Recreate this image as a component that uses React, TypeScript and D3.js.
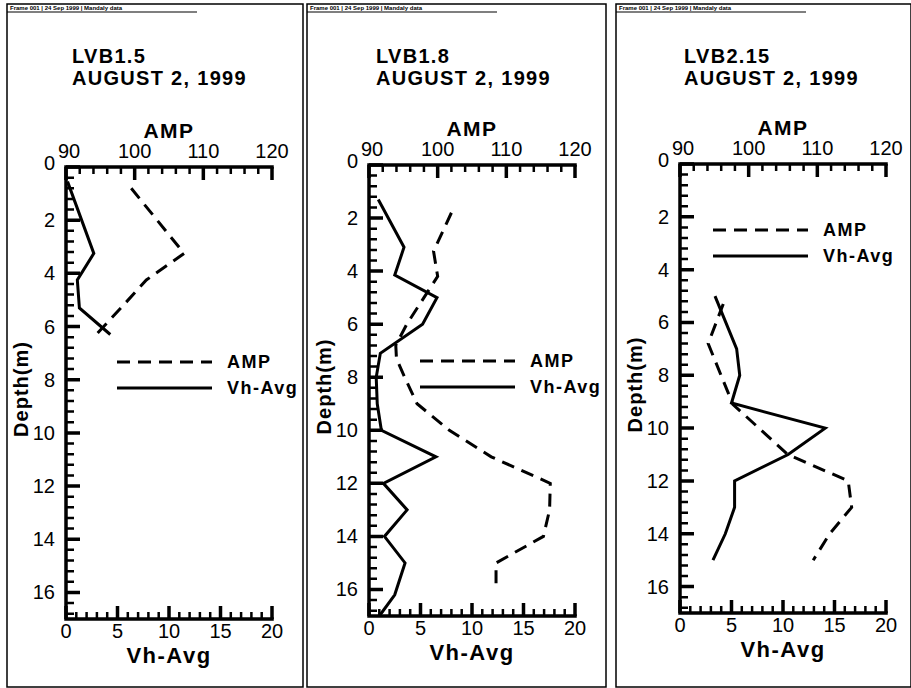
import React, { useRef, useEffect } from "react";
import * as d3 from "d3";

// wells and labels
const wellNames = ["LVB1.5", "LVB1.8", "LVB2.15"];
const surveyDate = "AUGUST 2, 1999";
const frameHeader = "Frame 001 | 24 Sep 1999 | Mandaly data";

// axis ticks
const ampTicks = [90, 100, 110, 120];
const vhTicks = [0, 5, 10, 15, 20];
const depthTicks = [0, 2, 4, 6, 8, 10, 12, 14, 16];

// LVB1.5
const vh15Depth = [0.55, 3.25, 4.25, 5.3, 6.3];
const vh15 = [0.15, 2.7, 1.1, 1.3, 4.3];
const amp15Depth = [0.8, 3.25, 4.25, 5.3, 6.3];
const amp15 = [99.5, 107.2, 101.7, 98.0, 94.4];

// LVB1.8
const vh18Depth = [1.3, 3.1, 4.15, 5, 6, 7.1, 8, 9, 10, 11, 12, 13, 14, 15, 16.2, 17];
const vh18 = [0.9, 3.4, 2.5, 6.6, 5.2, 1.1, 0.7, 0.8, 1.2, 6.5, 1.4, 3.7, 1.5, 3.5, 2.5, 1.0];
const amp18Depth = [1.8, 3.25, 4.2, 5, 6, 6.8, 7.3, 8, 9, 10, 11, 12, 13, 14, 15, 16];
const amp18 = [102.0, 99.4, 100.0, 98.0, 95.5, 93.9, 94.0, 95.2, 97.0, 101.7, 107.8, 116.4, 116.3, 115.4, 108.5, 108.5];

// LVB2.15
const vh215Depth = [5, 7, 8, 9.05, 10, 11, 12, 13, 14, 15];
const vh215 = [3.4, 5.5, 5.8, 5.0, 14.1, 10.5, 5.3, 5.3, 4.4, 3.2];
const amp215Depth = [5.3, 6.8, 9.1, 11, 12, 13, 14, 15];
const amp215 = [96.3, 94.1, 97.7, 105.7, 114.5, 115.0, 111.8, 109.4];

const vhSeries = [[vh15Depth, vh15], [vh18Depth, vh18], [vh215Depth, vh215]];
const ampSeries = [[amp15Depth, amp15], [amp18Depth, amp18], [amp215Depth, amp215]];

// layout
const frames = [{ x0: 7, x1: 303 }, { x0: 307, x1: 606 }, { x0: 616, x1: 911 }];
const boxes = [
  { left: 66, top: 167, right: 272, bottom: 619 },
  { left: 369, top: 165, right: 575, bottom: 616 },
  { left: 680, top: 164, right: 886, bottom: 613 },
];
const legends = [
  { x: 51, y: 195, tx: 161 },
  { x: 51, y: 196, tx: 161 },
  { x: 33, y: 66, tx: 143 },
];
const titleX = [6, 7, 4];

const FONT = "'Liberation Sans', Arial, Helvetica, sans-serif";

function App() {
  const ref = useRef<SVGSVGElement>(null);

  useEffect(() => {
    const svg = d3.select(ref.current);
    svg.selectAll("*").remove();

    wellNames.forEach((name, i) => {
      const f = frames[i];
      const b = boxes[i];
      const g = svg.append("g");

      // frame + header strip
      g.append("rect")
        .attr("x", f.x0).attr("y", 4)
        .attr("width", f.x1 - f.x0).attr("height", 683)
        .attr("fill", "none").attr("stroke", "#000").attr("stroke-width", 1.5);
      g.append("path")
        .attr("d", `M${f.x0},12H${f.x0 + 190}`)
        .attr("stroke", "#000").attr("stroke-width", 1.2);
      g.append("text")
        .attr("x", f.x0 + 3).attr("y", 10)
        .attr("font-size", 6).attr("font-weight", "bold")
        .attr("font-family", FONT)
        .text(frameHeader);

      // title
      const title = g.append("text")
        .attr("font-family", FONT).attr("font-weight", "bold")
        .attr("font-size", 20).attr("letter-spacing", 1.3);
      title.append("tspan").attr("x", b.left + titleX[i]).attr("y", 63).text(name);
      title.append("tspan").attr("x", b.left + titleX[i]).attr("y", 85).text(surveyDate);

      const y = d3.scaleLinear().domain([0, 17]).range([b.top, b.bottom]);
      const xAmp = d3.scaleLinear().domain([90, 120]).range([b.left, b.right]);
      const xVh = d3.scaleLinear().domain([0, 20]).range([b.left, b.right]);

      // tick labels
      const labels = g.append("g").attr("font-family", FONT).attr("font-size", 20).attr("fill", "#000");
      depthTicks.forEach((d) => {
        labels.append("text")
          .attr("x", b.left - 11).attr("y", y(d) - (d === 0 ? 4 : 0))
          .attr("dy", "0.35em").attr("text-anchor", "end")
          .text(d);
      });
      ampTicks.forEach((d) => {
        labels.append("text")
          .attr("x", xAmp(d) + (d === 90 ? 3 : 0)).attr("y", b.top - 9)
          .attr("text-anchor", "middle")
          .text(d);
      });
      vhTicks.forEach((d) => {
        labels.append("text")
          .attr("x", xVh(d)).attr("y", b.bottom + 19)
          .attr("text-anchor", "middle")
          .text(d);
      });

      // axis titles
      g.append("text")
        .attr("x", (b.left + b.right) / 2).attr("y", b.top - 29)
        .attr("text-anchor", "middle")
        .attr("font-family", FONT).attr("font-weight", "bold")
        .attr("font-size", 21).attr("letter-spacing", 1.5)
        .text("AMP");
      g.append("text")
        .attr("x", (b.left + b.right) / 2).attr("y", b.bottom + 44)
        .attr("text-anchor", "middle")
        .attr("font-family", FONT).attr("font-weight", "bold")
        .attr("font-size", 22).attr("letter-spacing", 1.5)
        .text("Vh-Avg");
      g.append("text")
        .attr("transform", `translate(${b.left - 38},${(b.top + b.bottom) / 2 - 4}) rotate(-90)`)
        .attr("text-anchor", "middle")
        .attr("font-family", FONT).attr("font-weight", "bold")
        .attr("font-size", 20).attr("letter-spacing", 1)
        .text("Depth(m)");

      // data lines
      const [vd, vv] = vhSeries[i];
      const [ad, av] = ampSeries[i];
      const vhLine = d3.line<[number, number]>().x((d) => xVh(d[1])).y((d) => y(d[0]));
      const ampLine = d3.line<[number, number]>().x((d) => xAmp(d[1])).y((d) => y(d[0]));

      g.append("path")
        .attr("d", ampLine(d3.zip(ad, av) as [number, number][]))
        .attr("fill", "none").attr("stroke", "#000")
        .attr("stroke-width", 3).attr("stroke-dasharray", "13,8");
      g.append("path")
        .attr("d", vhLine(d3.zip(vd, vv) as [number, number][]))
        .attr("fill", "none").attr("stroke", "#000")
        .attr("stroke-width", 3).attr("stroke-linejoin", "miter");

      // legend
      const lg = legends[i];
      const entries = [
        { label: "AMP", dash: "13,8" },
        { label: "Vh-Avg", dash: "none" },
      ];
      entries.forEach((e, k) => {
        const ly = b.top + lg.y + k * 26;
        g.append("path")
          .attr("d", `M${b.left + lg.x},${ly}H${b.left + lg.x + 95}`)
          .attr("stroke", "#000").attr("stroke-width", 3)
          .attr("stroke-dasharray", e.dash);
        g.append("text")
          .attr("x", b.left + lg.tx).attr("y", ly).attr("dy", "0.35em")
          .attr("font-family", FONT).attr("font-weight", "bold")
          .attr("font-size", 18).attr("letter-spacing", 1.5)
          .text(e.label);
      });

      // axis lines
      g.append("path")
        .attr("d", `M${b.right},${b.top}H${b.left}V${b.bottom}H${b.right}`)
        .attr("fill", "none").attr("stroke", "#000")
        .attr("stroke-width", 3.5).attr("stroke-linecap", "square");

      // tick marks, all pointing into the plot; majors thicker
      const minor = d3.path();
      const major = d3.path();
      d3.range(0, 43).forEach((k) => {
        const p = k % 5 === 0 ? major : minor;
        p.moveTo(b.left, y(k * 0.4));
        p.lineTo(b.left + (k % 5 === 0 ? 14 : 8), y(k * 0.4));
      });
      d3.range(0, 16).forEach((k) => {
        const x = xAmp(90 + k * 2);
        const p = k % 5 === 0 ? major : minor;
        p.moveTo(x, b.top);
        p.lineTo(x, b.top + (k % 5 === 0 ? 13 : 7));
      });
      d3.range(0, 21).forEach((k) => {
        const x = xVh(k);
        const p = k % 5 === 0 ? major : minor;
        p.moveTo(x, b.bottom);
        p.lineTo(x, b.bottom - (k % 5 === 0 ? 13 : 7));
      });
      g.append("path").attr("d", minor.toString())
        .attr("fill", "none").attr("stroke", "#000").attr("stroke-width", 2.5);
      g.append("path").attr("d", major.toString())
        .attr("fill", "none").attr("stroke", "#000").attr("stroke-width", 3.5);
    });
  }, []);

  return (
    <svg
      ref={ref}
      width={911}
      height={688}
      style={{ position: "absolute", left: 0, top: 0, background: "#fff" }}
    />
  );
}

export default App;
